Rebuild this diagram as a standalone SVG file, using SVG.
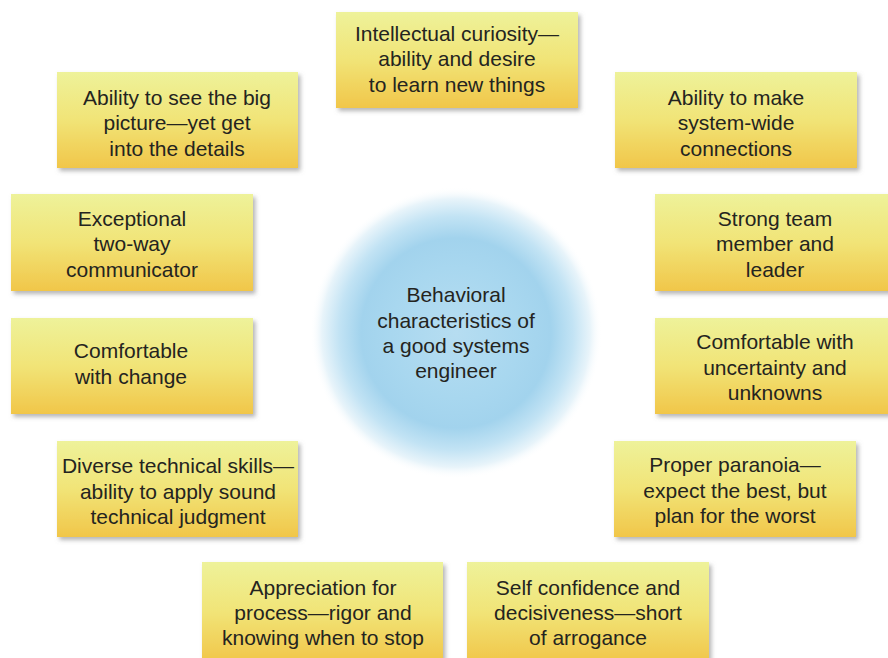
<svg xmlns="http://www.w3.org/2000/svg" width="888" height="658" viewBox="0 0 888 658">
  <defs>
    <linearGradient id="boxGrad" x1="0" y1="0" x2="0" y2="1">
      <stop offset="0" stop-color="#eef29a"/>
      <stop offset="0.5" stop-color="#f1e477"/>
      <stop offset="1" stop-color="#f1c649"/>
    </linearGradient>
    <radialGradient id="circGrad" cx="0.5" cy="0.5" r="0.5">
      <stop offset="0" stop-color="#b6ddf1"/>
      <stop offset="0.45" stop-color="#a8d7ef"/>
      <stop offset="0.65" stop-color="#a2d3ed"/>
      <stop offset="0.8" stop-color="#c2e3f4"/>
      <stop offset="0.92" stop-color="#e8f4fa"/>
      <stop offset="1" stop-color="#ffffff" stop-opacity="0"/>
    </radialGradient>
    <filter id="shadow" x="-10%" y="-10%" width="125%" height="130%">
      <feDropShadow dx="2.5" dy="3" stdDeviation="2" flood-color="#7a7a7a" flood-opacity="0.55"/>
    </filter>
  </defs>
  <style>
    .box { fill: url(#boxGrad); filter: url(#shadow); }
    .t { font-family: "Liberation Sans", Arial, Helvetica, sans-serif; font-size: 21px; fill: #242420; text-anchor: middle; }
  </style>
  <rect x="0" y="0" width="888" height="658" fill="#ffffff"/>

  <g id="center">
    <circle cx="456" cy="333" r="146" fill="url(#circGrad)"/>
    <text class="t" x="456" y="302">Behavioral</text>
    <text class="t" x="456" y="328">characteristics of</text>
    <text class="t" x="456" y="353">a good systems</text>
    <text class="t" x="456" y="378">engineer</text>
  </g>

  <g id="connectors"/>

  <g id="n1">
    <rect class="box" x="336" y="12" width="242" height="96"/>
    <text class="t" x="457" y="41">Intellectual curiosity—</text>
    <text class="t" x="457" y="66">ability and desire</text>
    <text class="t" x="457" y="92">to learn new things</text>
  </g>

  <g id="n2">
    <rect class="box" x="57" y="72" width="241" height="96"/>
    <text class="t" x="177" y="105">Ability to see the big</text>
    <text class="t" x="177" y="130">picture—yet get</text>
    <text class="t" x="177" y="156">into the details</text>
  </g>

  <g id="n3">
    <rect class="box" x="615" y="72" width="242" height="96"/>
    <text class="t" x="736" y="105">Ability to make</text>
    <text class="t" x="736" y="130">system-wide</text>
    <text class="t" x="736" y="156">connections</text>
  </g>

  <g id="n4">
    <rect class="box" x="11" y="194" width="242" height="97"/>
    <text class="t" x="132" y="226">Exceptional</text>
    <text class="t" x="132" y="251">two-way</text>
    <text class="t" x="132" y="277">communicator</text>
  </g>

  <g id="n5">
    <rect class="box" x="655" y="194" width="240" height="97"/>
    <text class="t" x="775" y="226">Strong team</text>
    <text class="t" x="775" y="251">member and</text>
    <text class="t" x="775" y="277">leader</text>
  </g>

  <g id="n6">
    <rect class="box" x="11" y="318" width="242" height="96"/>
    <text class="t" x="131" y="358">Comfortable</text>
    <text class="t" x="131" y="384">with change</text>
  </g>

  <g id="n7">
    <rect class="box" x="655" y="318" width="240" height="96"/>
    <text class="t" x="775" y="349">Comfortable with</text>
    <text class="t" x="775" y="375">uncertainty and</text>
    <text class="t" x="775" y="400">unknowns</text>
  </g>

  <g id="n8">
    <rect class="box" x="57" y="441" width="241" height="96"/>
    <text class="t" x="178" y="473">Diverse technical skills—</text>
    <text class="t" x="178" y="499">ability to apply sound</text>
    <text class="t" x="178" y="524">technical judgment</text>
  </g>

  <g id="n9">
    <rect class="box" x="614" y="441" width="242" height="96"/>
    <text class="t" x="735" y="472">Proper paranoia—</text>
    <text class="t" x="735" y="498">expect the best, but</text>
    <text class="t" x="735" y="523">plan for the worst</text>
  </g>

  <g id="n10">
    <rect class="box" x="202" y="562" width="241" height="100"/>
    <text class="t" x="323" y="595">Appreciation for</text>
    <text class="t" x="323" y="620">process—rigor and</text>
    <text class="t" x="323" y="645">knowing when to stop</text>
  </g>

  <g id="n11">
    <rect class="box" x="467" y="562" width="242" height="100"/>
    <text class="t" x="588" y="595">Self confidence and</text>
    <text class="t" x="588" y="620">decisiveness—short</text>
    <text class="t" x="588" y="645">of arrogance</text>
  </g>
</svg>
